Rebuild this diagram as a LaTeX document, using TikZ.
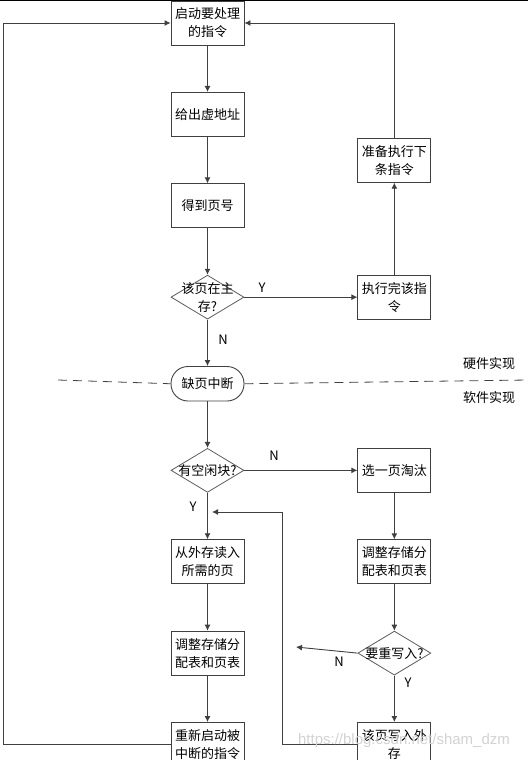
\documentclass[tikz,border=0pt]{standalone}
\usepackage{fontspec}
\setmainfont{Noto Sans CJK SC}
\newfontfamily\wmfont{Liberation Sans}
\usepackage{xcolor}
\usetikzlibrary{calc,shapes,arrows.meta,positioning}
\definecolor{linegray}{RGB}{64,64,64}
\definecolor{diagray}{RGB}{90,90,90}
\tikzset{
    box/.style={rectangle,draw=linegray,line width=0.9pt,minimum width=73pt,minimum height=44pt,inner sep=1pt,align=center},
    decide/.style={diamond,draw=diagray,line width=0.8pt,minimum width=73pt,minimum height=44pt,inner sep=0pt},
    dtext/.style={align=center,inner sep=0pt},
    term/.style={rectangle,rounded corners=17pt,draw=linegray,line width=0.9pt,minimum width=73pt,minimum height=34.5pt,inner sep=1pt},
    flow/.style={draw=linegray,line width=0.9pt,-{Latex[length=6pt,width=6pt]}},
    yn/.style={inner sep=0pt},
    dashline/.style={draw=linegray,line width=0.8pt,dash pattern=on 9pt off 6pt}
}
\begin{document}
\begin{tikzpicture}[x=1pt,y=-1pt,font=\fontsize{13}{18}\selectfont,node distance=46.5pt]
        \useasboundingbox (0,0) rectangle (528,760);
        \draw[black,line width=1pt] (0,0.5) -- (528,0.5);
        %nodes
        \node[box] (start) at (207.5,23) {启动要处理\\的指令};
        \node[box,below=of start] (addr) {给出虚地址};
        \node[box,below=of addr] (pageno) {得到页号};
        \node[decide,below=of pageno] (inmem) {};
        \node[dtext] (inmemtxt) at (inmem) {该页在主\\存?};
        \node[term,below=of inmem] (fault) {缺页中断};
        \node[decide,below=of fault] (free) {};
        \node[dtext] (freetxt) at (free) {有空闲块?};
        \node[box,below=of free] (readin) {从外存读入\\所需的页};
        \node[box,below=of readin] (adjustL) {调整存储分\\配表和页表};
        \node[box,below=of adjustL] (restart) {重新启动被\\中断的指令};

        \node[box,right=113pt of inmem] (exec) {执行完该指\\令};
        \node[box,above=92pt of exec] (next) {准备执行下\\条指令};
        \node[box,right=113pt of free] (evict) {选一页淘汰};
        \node[box,below=of evict] (adjustR) {调整存储分\\配表和页表};
        \node[decide,below=of adjustR] (rewrite) {};
        \node[dtext] (rewritetxt) at (rewrite) {要重写入?};
        \node[box,below=of rewrite] (writeout) {该页写入外\\存};

        \node[inner sep=0pt] (hw) at (489,364) {硬件实现};
        \node[inner sep=0pt] (sw) at (489,398) {软件实现};

        %free ends
        \coordinate (leftx) at (3,0);
        \coordinate (dashL) at (58,380);
        \coordinate (dashR) at (528,380);
        \coordinate (nodrop) at (296,647);
        \coordinate (backx) at (282,512);
        \coordinate (backend) at (212,512);

        %arrows
        \draw[flow] (start) -- (addr);
        \draw[flow] (addr) -- (pageno);
        \draw[flow] (pageno) -- (inmem);
        \draw[flow] (inmem) -- (fault);
        \draw[flow] (inmem) -- (exec);
        \draw[flow] (exec) -- (next);
        \draw[flow] (next.north) |- (start.east);
        \draw[flow] (fault) -- (free);
        \draw[flow] (free) -- (readin);
        \draw[flow] (free) -- (evict);
        \draw[flow] (readin) -- (adjustL);
        \draw[flow] (adjustL) -- (restart);
        \draw[flow] (restart.west) -- (restart.west -| leftx) |- (start.west);
        \draw[flow] (evict) -- (adjustR);
        \draw[flow] (adjustR) -- (rewrite);
        \draw[flow] (rewrite) -- (writeout);
        \draw[flow] (rewrite.west) -- (nodrop);
        \draw[flow] (writeout.west) -| (backx) -- (backend);

        %hardware / software border
        \draw[dashline] (dashL) -- (fault.west);
        \draw[dashline] (fault.east) -- (dashR);

        %labels
        \node[yn] (y1) at (262,288) {Y};
        \node[yn] (n1) at (223,340) {N};
        \node[yn] (n2) at (274,456) {N};
        \node[yn] (y2) at (193,507) {Y};
        \node[yn] (n3) at (339,662) {N};
        \node[yn] (y3) at (408,683) {Y};

        \node[inner sep=0pt,text=gray!35,font=\wmfont\fontsize{15}{15}\selectfont] (mark) at (404,741) {https://blog.csdn.net/sham\_dzm};
\end{tikzpicture}
\end{document}
